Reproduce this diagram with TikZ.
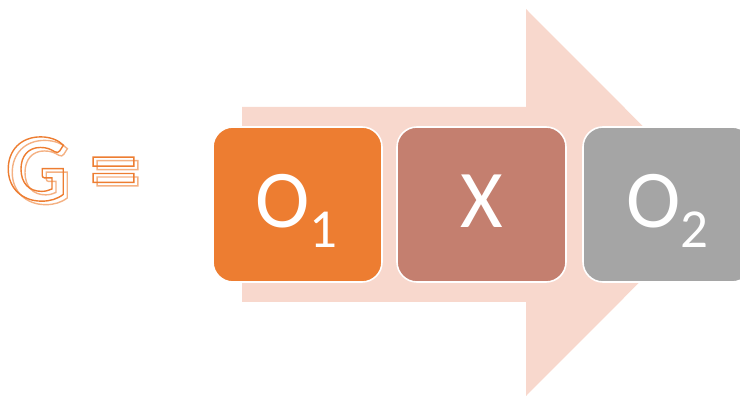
\documentclass[tikz,border=0pt]{standalone}
\usepackage{fontspec}
\setmainfont{Carlito}
\definecolor{arrowc}{HTML}{F8D8CD}
\definecolor{orangec}{HTML}{ED7D31}
\definecolor{xc}{HTML}{C47F6F}
\definecolor{grayc}{HTML}{A5A5A5}
\definecolor{shadowc}{HTML}{F4B183}
\newcommand{\outlinetext}[1]{\special{pdf:literal direct 1 Tr 1.4 w}#1\special{pdf:literal direct 0 Tr}}
\tikzset{
  boxstyle/.style={draw=white, line width=1.6pt, rounded corners=20pt},
  labelstyle/.style={text=white, anchor=base, inner sep=0pt, font=\fontsize{82}{82}\selectfont},
  gstyle/.style={anchor=base west, inner sep=0pt, font=\fontsize{97}{97}\selectfont\bfseries}
}
\newcommand{\subdigit}[1]{\raisebox{-20pt}{\fontsize{55}{55}\selectfont #1}}
\begin{document}
\begin{tikzpicture}[x=1pt,y=-1pt]
  \useasboundingbox (0,0) rectangle (740,398);
  \clip (0,0) rectangle (740,398);
  % big arrow
  \fill[arrowc] (242,107) -- (526,107) -- (526,9) -- (719,202.5) -- (526,396) -- (526,302) -- (242,302) -- cycle;
  % boxes
  \filldraw[boxstyle, fill=orangec] (213,127) rectangle (382,282);
  \filldraw[boxstyle, fill=xc] (397,127) rectangle (566,282);
  \filldraw[boxstyle, fill=grayc] (583,127) rectangle (752,282);
  \node[labelstyle] (o1) at (296.5,228) {O\subdigit{1}};
  \node[labelstyle] (x) at (482,227.5) {X};
  \node[labelstyle] (o2) at (667.5,228) {O\subdigit{2}};
  % G =
  \node[gstyle, text=shadowc] (gshadow) at (9.5,204) {\outlinetext{G =}};
  \node[gstyle, text=orangec] (g) at (5.5,200.5) {\outlinetext{G =}};
\end{tikzpicture}
\end{document}
